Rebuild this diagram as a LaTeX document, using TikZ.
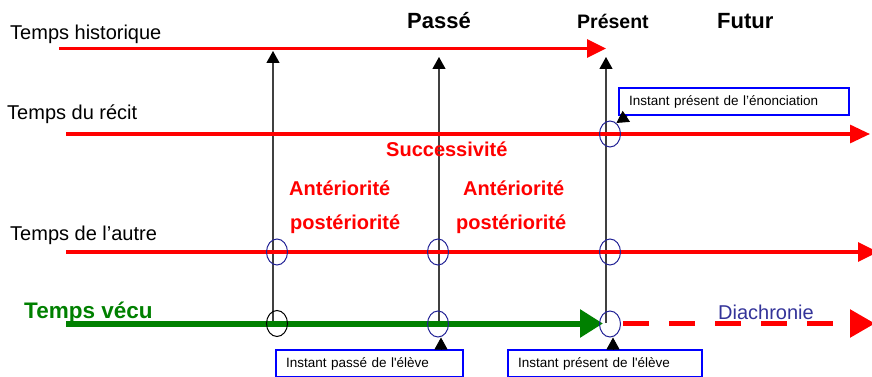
\documentclass[tikz,border=0pt]{standalone}
\usepackage{fontspec}
\setmainfont{Liberation Sans}
\usetikzlibrary{arrows.meta, shapes.geometric}

\definecolor{ringblue}{RGB}{35,35,150}
\definecolor{lifegreen}{RGB}{0,128,0}
\definecolor{diablue}{RGB}{51,51,153}

\begin{document}
\begin{tikzpicture}[x = 1pt, y = -1pt,
	timeline/.style = {red, line width = 3.2pt},
	moment/.style = {black!75, line width = 1.2pt, -{Triangle[length = 12pt, width = 13pt, color = black]}},
	ring/.style = {ellipse, draw = ringblue, line width = 1pt, minimum width = 21pt, minimum height = 26pt, inner sep = 0pt},
	lbl/.style = {anchor = base west, inner sep = 0pt, font = \fontsize{20}{24}\selectfont},
	relation/.style = {lbl, red, font = \fontsize{20}{24}\selectfont\bfseries},
	infobox/.style = {draw = blue, line width = 1.6pt, inner xsep = 10pt, inner ysep = 0pt, minimum height = 27pt, text width = #1, align = left, font = \fontsize{13.5}{16}\selectfont},
	pointer/.style = {line width = 1pt, -{Triangle[length = 12pt, width = 13pt]}}]

	\useasboundingbox (0, 0) rectangle (872, 377);

	% End points of the four time lines

	\coordinate (hist0) at (59, 48.5);
	\coordinate (hist1) at (606, 48.5);
	\coordinate (recit0) at (66, 134);
	\coordinate (recit1) at (870, 134);
	\coordinate (autre0) at (66, 252);
	\coordinate (autre1) at (878, 252);
	\coordinate (vecu0) at (66, 323.5);
	\coordinate (vecu1) at (603, 323.5);
	\coordinate (futur0) at (623, 323.5);
	\coordinate (futur1) at (875, 323.5);

	% Vertical instants

	\coordinate (v1) at (273, 323);
	\coordinate (v1top) at (273, 51);
	\coordinate (v2) at (439, 323);
	\coordinate (v2top) at (439, 57);
	\coordinate (v3) at (606, 323);
	\coordinate (v3top) at (606, 57);

	\draw [moment] (v1) -- (v1top);
	\draw [moment] (v2) -- (v2top);
	\draw [moment] (v3) -- (v3top);

	% Time lines

	\draw [timeline, -{Triangle[length = 19pt, width = 18pt]}] (hist0) -- (hist1);
	\draw [timeline, -{Triangle[length = 20pt, width = 18pt]}] (recit0) -- (recit1);
	\draw [timeline, -{Triangle[length = 20pt, width = 19pt]}] (autre0) -- (autre1);

	\draw [lifegreen, line width = 6pt, -{Triangle[length = 23pt, width = 27pt]}] (vecu0) -- (vecu1);
	\draw [red, line width = 5.5pt, dash pattern = on 26pt off 20pt, -{Triangle[length = 25pt, width = 27pt]}] (futur0) -- (futur1);

	% Rings on the crossings

	\node [ring] (r0) at (610, 134) {};
	\node [ring] (r1) at (277, 252) {};
	\node [ring] (r2) at (438, 252) {};
	\node [ring] (r3) at (610, 252) {};
	\node [ring, draw = black] (r4) at (277, 323.5) {};
	\node [ring] (r5) at (438, 324) {};
	\node [ring] (r6) at (610, 324) {};

	% Names of the lines

	\node [lbl] (hist) at (10, 39.5) {Temps historique};
	\node [lbl] (recit) at (7, 120) {Temps du récit};
	\node [lbl] (autre) at (10, 240) {Temps de l’autre};
	\node [lbl, lifegreen, font = \fontsize{22.5}{26}\selectfont\bfseries] (vecu) at (24, 318) {Temps vécu};

	% Past, present, future

	\node [lbl, font = \fontsize{22}{26}\selectfont\bfseries] (passe) at (407, 28.3) {Passé};
	\node [lbl, font = \fontsize{19.5}{24}\selectfont\bfseries] (present) at (577, 28.3) {Présent};
	\node [lbl, font = \fontsize{22}{26}\selectfont\bfseries] (futur) at (717, 28.3) {Futur};

	% Relations

	\node [relation] (succ) at (386, 156.7) {Successivité};
	\node [relation] (ant1) at (289, 195.7) {Antériorité};
	\node [relation] (post1) at (290, 229) {postériorité};
	\node [relation] (ant2) at (463, 195.7) {Antériorité};
	\node [relation] (post2) at (456, 229) {postériorité};

	\node [lbl, diablue] (diachr) at (718, 319.3) {Diachronie};

	% Boxes and their pointers

	\node [infobox = 210pt] (enon) at (734, 101.5) {Instant présent de l’énonciation};
	\node [infobox = 167pt] (eleve0) at (369.5, 363.5) {Instant passé de l\textquotesingle élève};
	\node [infobox = 174pt] (eleve1) at (605, 363.5) {Instant présent de l\textquotesingle élève};

	\draw [pointer] ([xshift = 9pt] enon.south west) -- (r0.60);
	\draw [pointer] ([xshift = 3pt] eleve0.north -| r5.south) -- ([xshift = 3pt] r5.south);
	\draw [pointer] ([xshift = 3pt] eleve1.north -| r6.south) -- ([xshift = 3pt] r6.south);

\end{tikzpicture}
\end{document}
